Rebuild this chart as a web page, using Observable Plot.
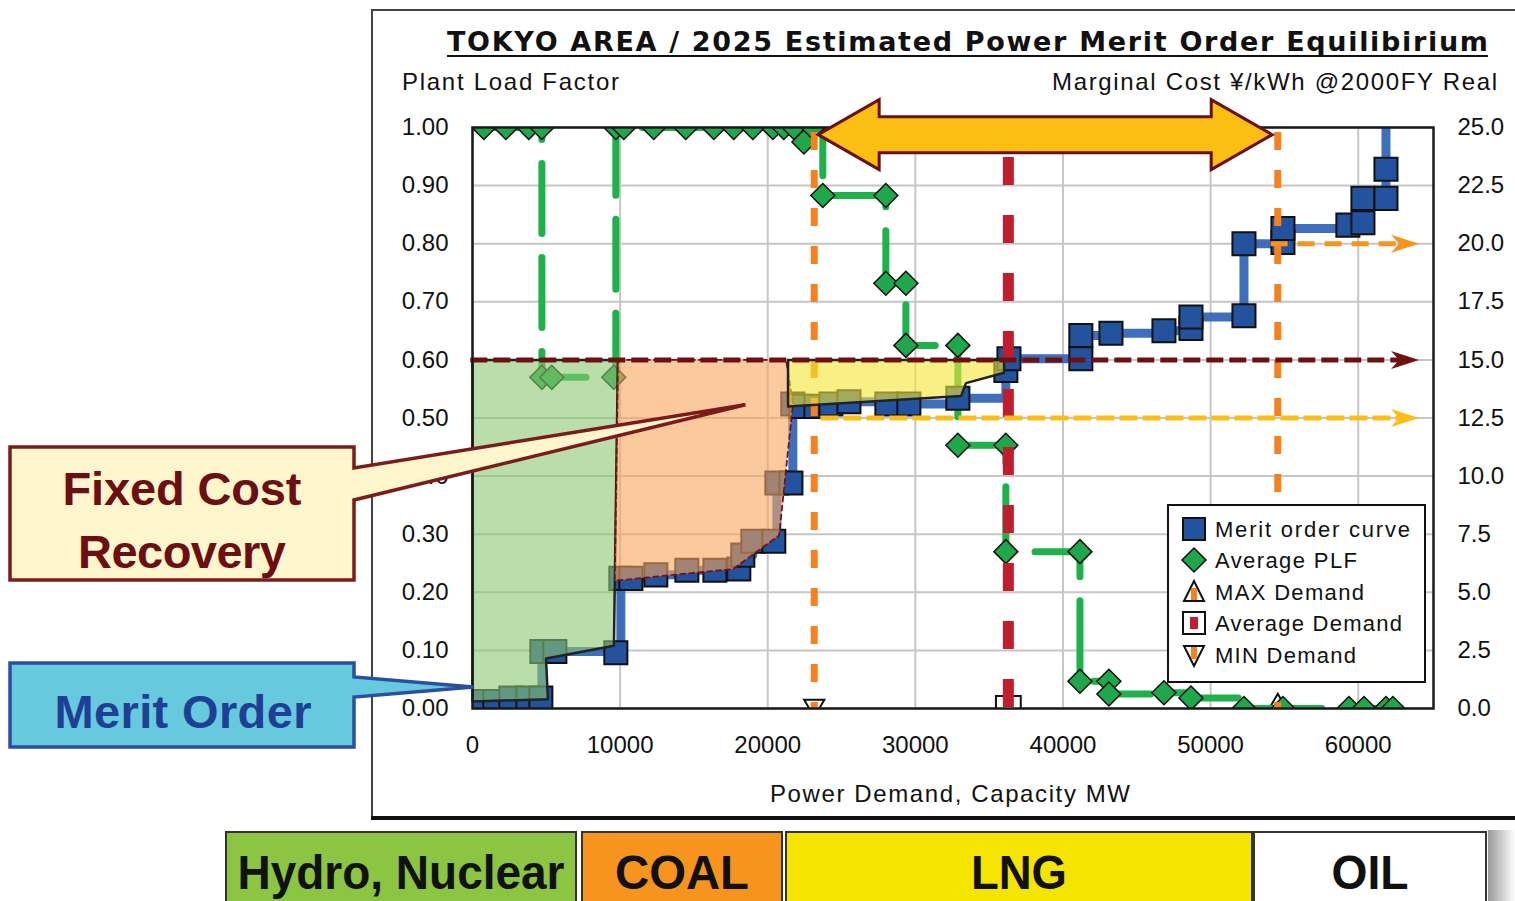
<!DOCTYPE html>
<html>
<head>
<meta charset="utf-8">
<script src="https://cdn.jsdelivr.net/npm/d3@7"></script>
<script src="https://cdn.jsdelivr.net/npm/@observablehq/plot@0.6"></script>
<style>
html,body{margin:0;padding:0;background:#fff;}
#wrap{position:relative;width:1515px;height:901px;overflow:hidden;background:#fff;}
#wrap > svg{position:absolute;left:0;top:0;}
</style>
</head>
<body>
<div id="wrap"></div>
<script>
// ---------------- data ----------------
// Merit order curve: cumulative capacity (MW) and marginal cost (¥/kWh)
const meritMW   = [430,1510,2600,3750,4630,4700,5580,9710,10050,10730,12420,14520,16420,18040,18310,18990,20410,20620,21570,21700,22240,23260,24280,25500,28070,29560,32880,36130,36340,41210,41210,43250,46840,48670,48670,52260,52260,54900,54900,59300,60320,60320,61880,61880,61880];
const meritCost = [0.3,0.3,0.45,0.45,0.45,2.45,2.45,2.4,5.6,5.6,5.75,5.95,5.95,6.0,6.6,7.2,7.2,9.7,9.7,13.1,13.0,13.0,13.1,13.2,13.1,13.1,13.35,14.55,15.05,15.05,16.05,16.15,16.25,16.35,16.85,16.9,20.0,20.05,20.65,20.8,20.9,21.95,21.95,23.2,30];
// Average plant load factor
const plfMW    = [770,2260,3810,4700,4700,5370,9570,9710,10250,12280,14450,16350,17700,18990,20350,21090,21770,22450,23060,23730,28000,28000,29360,29360,32880,32880,36130,36130,41150,41150,43110,43110,46840,48670,52260,54900,59370,60390,61880,62350];
const plfValue = [1,1,1,1,0.57,0.57,0.57,1,1,1,1,1,1,1,1,1,1,0.975,1,0.883,0.883,0.732,0.732,0.625,0.625,0.453,0.453,0.27,0.27,0.047,0.047,0.025,0.027,0.018,0,0,0,0,0,0];
// Demand (MW)
const minDemand = 23150, avgDemand = 36300, maxDemand = 54550;
// Fixed cost recovery areas (MW, ¥/kWh)
const hydroAreaMW   = [0, 9850, 9580, 4980, 5110, 0];
const hydroAreaCost = [15, 15, 2.7, 2.15, 0.4, 0.3];
const coalAreaMW    = [9850, 21240, 21710, 20770, 17650, 9640];
const coalAreaCost  = [15, 15, 13.1, 7.45, 6.0, 5.5];
const lngAreaMW     = [21375, 36010, 36010, 33430, 33100, 21375];
const lngAreaCost   = [15, 15, 14.45, 14.0, 13.45, 13.0];
// Price reference lines (¥/kWh) with start capacity
const priceLevels = [15, 20, 12.5];
const priceFrom   = [-115, 54100, 23600];
const priceTo     = 63000, priceTip = 64120;
// axes
const xTicks = [0,10000,20000,30000,40000,50000,60000];
const yTicks = [0,2.5,5,7.5,10,12.5,15,17.5,20,22.5,25];
const X_MAX = 65100, COST_MAX = 25;
// annotation anchors (data units)
const fixedCostTip = [18520, 13.05];
const meritOrderTip = [90, 0.9];
const bandArrow = {from: 23450, to: 54210, cost: 24.67};
const legendLabels = ["Merit order curve","Average PLF","MAX Demand","Average Demand","MIN Demand"];
const fuelLabels = ["Hydro, Nuclear","COAL","LNG","OIL"];

// ---------------- build ----------------
const merit = meritMW.map((x,i)=>({mw:x, cost:meritCost[i]}));
const plf = plfMW.map((x,i)=>({mw:x, plf:plfValue[i]}));
const poly = (m,c)=>m.map((x,i)=>({mw:x, cost:c[i]}));
const plfY = d => d.plf * COST_MAX;

const arrowHead = {draw(ctx, size){ const s=Math.sqrt(size/Math.PI);
  ctx.moveTo(0,0); ctx.lineTo(-2.8*s,-0.9*s); ctx.lineTo(-2.0*s,0); ctx.lineTo(-2.8*s,0.9*s); ctx.closePath(); }};

const hColors = ["#6e1010","#f7941e","#fcbe14"];
const hDash = ["17,6","17,10","18,5"];
const hMarks = priceLevels.flatMap((c,i)=>[
  Plot.ruleY([c], {x1: priceFrom[i], x2: priceTo, stroke: hColors[i], strokeWidth: 5, strokeDasharray: hDash[i]}),
  Plot.dot([c], {x: priceTip, y: d=>d, symbol: arrowHead, r: 10, fill: hColors[i], stroke: "none"})
]);

const chart = Plot.plot({
  width: 1515, height: 901,
  marginLeft: 472, marginRight: 82, marginTop: 127, marginBottom: 193,
  x: {domain: [0, X_MAX]},
  y: {domain: [0, COST_MAX]},
  style: {fontFamily: "'Liberation Sans', Arial, sans-serif", fontSize: "24px", color: "#111", background: "transparent"},
  marks: [
    Plot.gridX(xTicks, {stroke: "#c6c6c6", strokeOpacity: 1, strokeWidth: 2}),
    Plot.gridY(yTicks, {stroke: "#c6c6c6", strokeOpacity: 1, strokeWidth: 2}),
    Plot.axisX(xTicks, {tickSize: 0, tickPadding: 27, tickFormat: d => String(d), label: null}),
    Plot.axisY(yTicks, {anchor: "left", tickSize: 0, tickPadding: 24, tickFormat: d => (d/COST_MAX).toFixed(2), label: null}),
    Plot.axisY(yTicks, {anchor: "right", tickSize: 0, tickPadding: 24, tickFormat: d => d.toFixed(1), label: null}),
    // demand markers
    Plot.dot([maxDemand], {x: d=>d, y: 0, symbol: "triangle", r: 7.5, dy: -3, fill: "#fff", stroke: "#111", strokeWidth: 2, clip: true}),
    Plot.dot([minDemand], {x: d=>d, y: 0, symbol: "triangle", rotate: 180, r: 7.5, dy: -3, fill: "#fff", stroke: "#111", strokeWidth: 2, clip: true}),
    Plot.dot([avgDemand], {x: d=>d, y: 0, symbol: "square", r: 14, fill: "#fff", stroke: "#111", strokeWidth: 2, clip: true}),
    // average PLF
    Plot.line(plf, {x: "mw", y: plfY, curve: "step-after", stroke: "#1db24b", strokeWidth: 7, strokeDasharray: "70,24", clip: true}),
    Plot.dot(plf, {x: "mw", y: plfY, symbol: "diamond2", r: 10.8, fill: "#1ea84b", stroke: "#111", strokeWidth: 1.5, clip: true}),
    // merit order
    Plot.line(merit, {x: "mw", y: "cost", curve: "step-after", stroke: "#2f63b6", strokeWidth: 9, strokeOpacity: 0.92, clip: true}),
    Plot.dot(merit, {x: "mw", y: "cost", symbol: "square", r: 13, fill: "#23529f", stroke: "#111", strokeWidth: 2, clip: true}),
    // demand lines
    Plot.ruleX([minDemand], {stroke: "#f5821f", strokeWidth: 7, strokeDasharray: "18,20", strokeDashoffset: 33}),
    Plot.ruleX([avgDemand], {stroke: "#be1e2d", strokeWidth: 11, strokeDasharray: "28,30", strokeDashoffset: 28}),
    Plot.ruleX([maxDemand], {stroke: "#f5821f", strokeWidth: 7, strokeDasharray: "18,20", strokeDashoffset: 33}),
    // fixed cost recovery areas
    Plot.line(poly(hydroAreaMW, hydroAreaCost), {x: "mw", y: "cost", curve: "linear-closed", fill: "#8cc870", fillOpacity: 0.6, stroke: "#222", strokeWidth: 2.5}),
    Plot.line(poly(coalAreaMW, coalAreaCost), {x: "mw", y: "cost", curve: "linear-closed", fill: "#f7a75e", fillOpacity: 0.6, stroke: "#7a1010", strokeWidth: 1.8, strokeDasharray: "5,4"}),
    Plot.line(poly(lngAreaMW, lngAreaCost), {x: "mw", y: "cost", curve: "linear-closed", fill: "#f5e634", fillOpacity: 0.6, stroke: "#222", strokeWidth: 2.5}),
    ...hMarks,
    Plot.frame({stroke: "#1a1a1a", strokeWidth: 2.5})
  ]
});
const wrap = document.getElementById("wrap");
wrap.appendChild(chart);

// ---------------- overlay annotations ----------------
const sx = v => chart.scale("x").apply(v), sy = v => chart.scale("y").apply(v);
const ov = d3.select(wrap).append("svg").attr("width",1515).attr("height",901)
  .style("position","absolute").style("left","0").style("top","0");
const F = "'Liberation Sans', Arial, sans-serif";
function txt(g, s, x, y, o){
  const t = g.append("text").attr("x",x).attr("y",y).text(s)
    .style("font-family", o.family || F).style("font-size", o.size+"px")
    .style("font-weight", o.weight || "normal").attr("fill", o.fill || "#111")
    .attr("text-anchor", o.anchor || "start");
  if (o.len) t.attr("textLength", o.len).attr("lengthAdjust", o.adjust || "spacing");
  return t;
}
// chart frame
ov.append("path").attr("d","M372,818 L372,10 L1520,10").attr("fill","none").attr("stroke","#444").attr("stroke-width",2);
ov.append("line").attr("x1",371).attr("y1",818).attr("x2",1520).attr("y2",818).attr("stroke","#111").attr("stroke-width",4);
// titles
txt(ov, "TOKYO AREA / 2025 Estimated Power Merit Order Equilibirium", 447, 51, {size:27, weight:"bold", family:"'DejaVu Sans', sans-serif", len:1041});
ov.append("line").attr("x1",447).attr("x2",1488).attr("y1",56).attr("y2",56).attr("stroke","#111").attr("stroke-width",2);
txt(ov, "Plant Load Factor", 402, 90, {size:24, len:217});
txt(ov, "Marginal Cost ¥/kWh @2000FY Real", 1052, 90, {size:24, len:445});
txt(ov, "Power Demand, Capacity MW", 770, 802, {size:24, len:360});

// big double arrow
{
  const xl = sx(bandArrow.from), xr = sx(bandArrow.to), yc = sy(bandArrow.cost);
  const hl = 61, hh = 35, sh = 18;
  const d = `M${xl},${yc} L${xl+hl},${yc-hh} L${xl+hl},${yc-sh} L${xr-hl},${yc-sh} L${xr-hl},${yc-hh} L${xr},${yc} L${xr-hl},${yc+hh} L${xr-hl},${yc+sh} L${xl+hl},${yc+sh} L${xl+hl},${yc+hh} Z`;
  ov.append("path").attr("d",d).attr("fill","#fbbf14").attr("stroke","#6b0f0f").attr("stroke-width",3).attr("stroke-linejoin","miter");
}
// callouts
{
  const [tx,ty] = [sx(fixedCostTip[0]), sy(fixedCostTip[1])];
  ov.append("path").attr("d",`M10,447 L354,447 L354,468 L${tx},${ty} L354,500 L354,580 L10,580 Z`)
    .attr("fill","#fdf5cb").attr("stroke","#7b1c1c").attr("stroke-width",3.5);
  txt(ov, "Fixed Cost", 182, 505, {size:47, weight:"bold", anchor:"middle", fill:"#6b0f12", len:239});
  txt(ov, "Recovery", 182, 568, {size:47, weight:"bold", anchor:"middle", fill:"#6b0f12", len:208});
  const [mx,my] = [sx(meritOrderTip[0]), sy(meritOrderTip[1])];
  ov.append("path").attr("d",`M10,663 L354,663 L354,677 L${mx},${my} L354,697 L354,747 L10,747 Z`)
    .attr("fill","#66c9de").attr("stroke","#2a4fa0").attr("stroke-width",3.5);
  txt(ov, "Merit Order", 183, 728, {size:47, weight:"bold", anchor:"middle", fill:"#1e3f94", len:257});
}
// legend
{
  const g = ov.append("g");
  g.append("rect").attr("x",1168).attr("y",505).attr("width",257).attr("height",177).attr("fill","#fff").attr("stroke","#111").attr("stroke-width",2);
  const rows = [529,560,592,623,655], cx = 1194;
  const lens = [195,142,149,187,141];
  g.append("rect").attr("x",cx-11).attr("y",rows[0]-11).attr("width",22).attr("height",22).attr("fill","#23529f").attr("stroke","#111").attr("stroke-width",2);
  g.append("path").attr("d",`M${cx},${rows[1]-12} L${cx+12},${rows[1]} L${cx},${rows[1]+12} L${cx-12},${rows[1]} Z`).attr("fill","#1ea84b").attr("stroke","#111").attr("stroke-width",1.5);
  g.append("path").attr("d",`M${cx},${rows[2]-11} L${cx+10},${rows[2]+9} L${cx-10},${rows[2]+9} Z`).attr("fill","#fff").attr("stroke","#111").attr("stroke-width",2);
  g.append("rect").attr("x",cx-3).attr("y",rows[2]-4).attr("width",6).attr("height",12).attr("fill","#f5821f");
  g.append("rect").attr("x",cx-11).attr("y",rows[3]-11).attr("width",22).attr("height",22).attr("fill","#fff").attr("stroke","#111").attr("stroke-width",2);
  g.append("rect").attr("x",cx-4).attr("y",rows[3]-6).attr("width",8).attr("height",12).attr("fill","#be1e2d");
  g.append("path").attr("d",`M${cx-10},${rows[4]-9} L${cx+10},${rows[4]-9} L${cx},${rows[4]+11} Z`).attr("fill","#fff").attr("stroke","#111").attr("stroke-width",2);
  g.append("rect").attr("x",cx-3).attr("y",rows[4]-8).attr("width",6).attr("height",12).attr("fill","#f5821f");
  legendLabels.forEach((s,i)=> txt(g, s, 1215, rows[i]+8, {size:22, len:lens[i]}));
}
// fuel band below the chart
{
  const defs = ov.append("defs");
  const gr = defs.append("linearGradient").attr("id","shade").attr("x1","0").attr("x2","1");
  gr.append("stop").attr("offset","0").attr("stop-color","#9a9a9a");
  gr.append("stop").attr("offset","1").attr("stop-color","#fff");
  ov.append("rect").attr("x",1488).attr("y",830).attr("width",27).attr("height",80).attr("fill","url(#shade)");
  const boxes = [[226,576,"#8cc541",327],[582,782,"#f7941d",134],[786,1252,"#f5e400",96],[1254,1486,"#ffffff",77]];
  boxes.forEach(([a,b,c,len],i)=>{
    ov.append("rect").attr("x",a).attr("y",832).attr("width",b-a).attr("height",80).attr("fill",c).attr("stroke","#333").attr("stroke-width",2);
    txt(ov, fuelLabels[i], (a+b)/2, 889, {size:48, weight:"bold", anchor:"middle", fill:"#111", len, adjust:"spacingAndGlyphs"});
  });
}
</script>
</body>
</html>
